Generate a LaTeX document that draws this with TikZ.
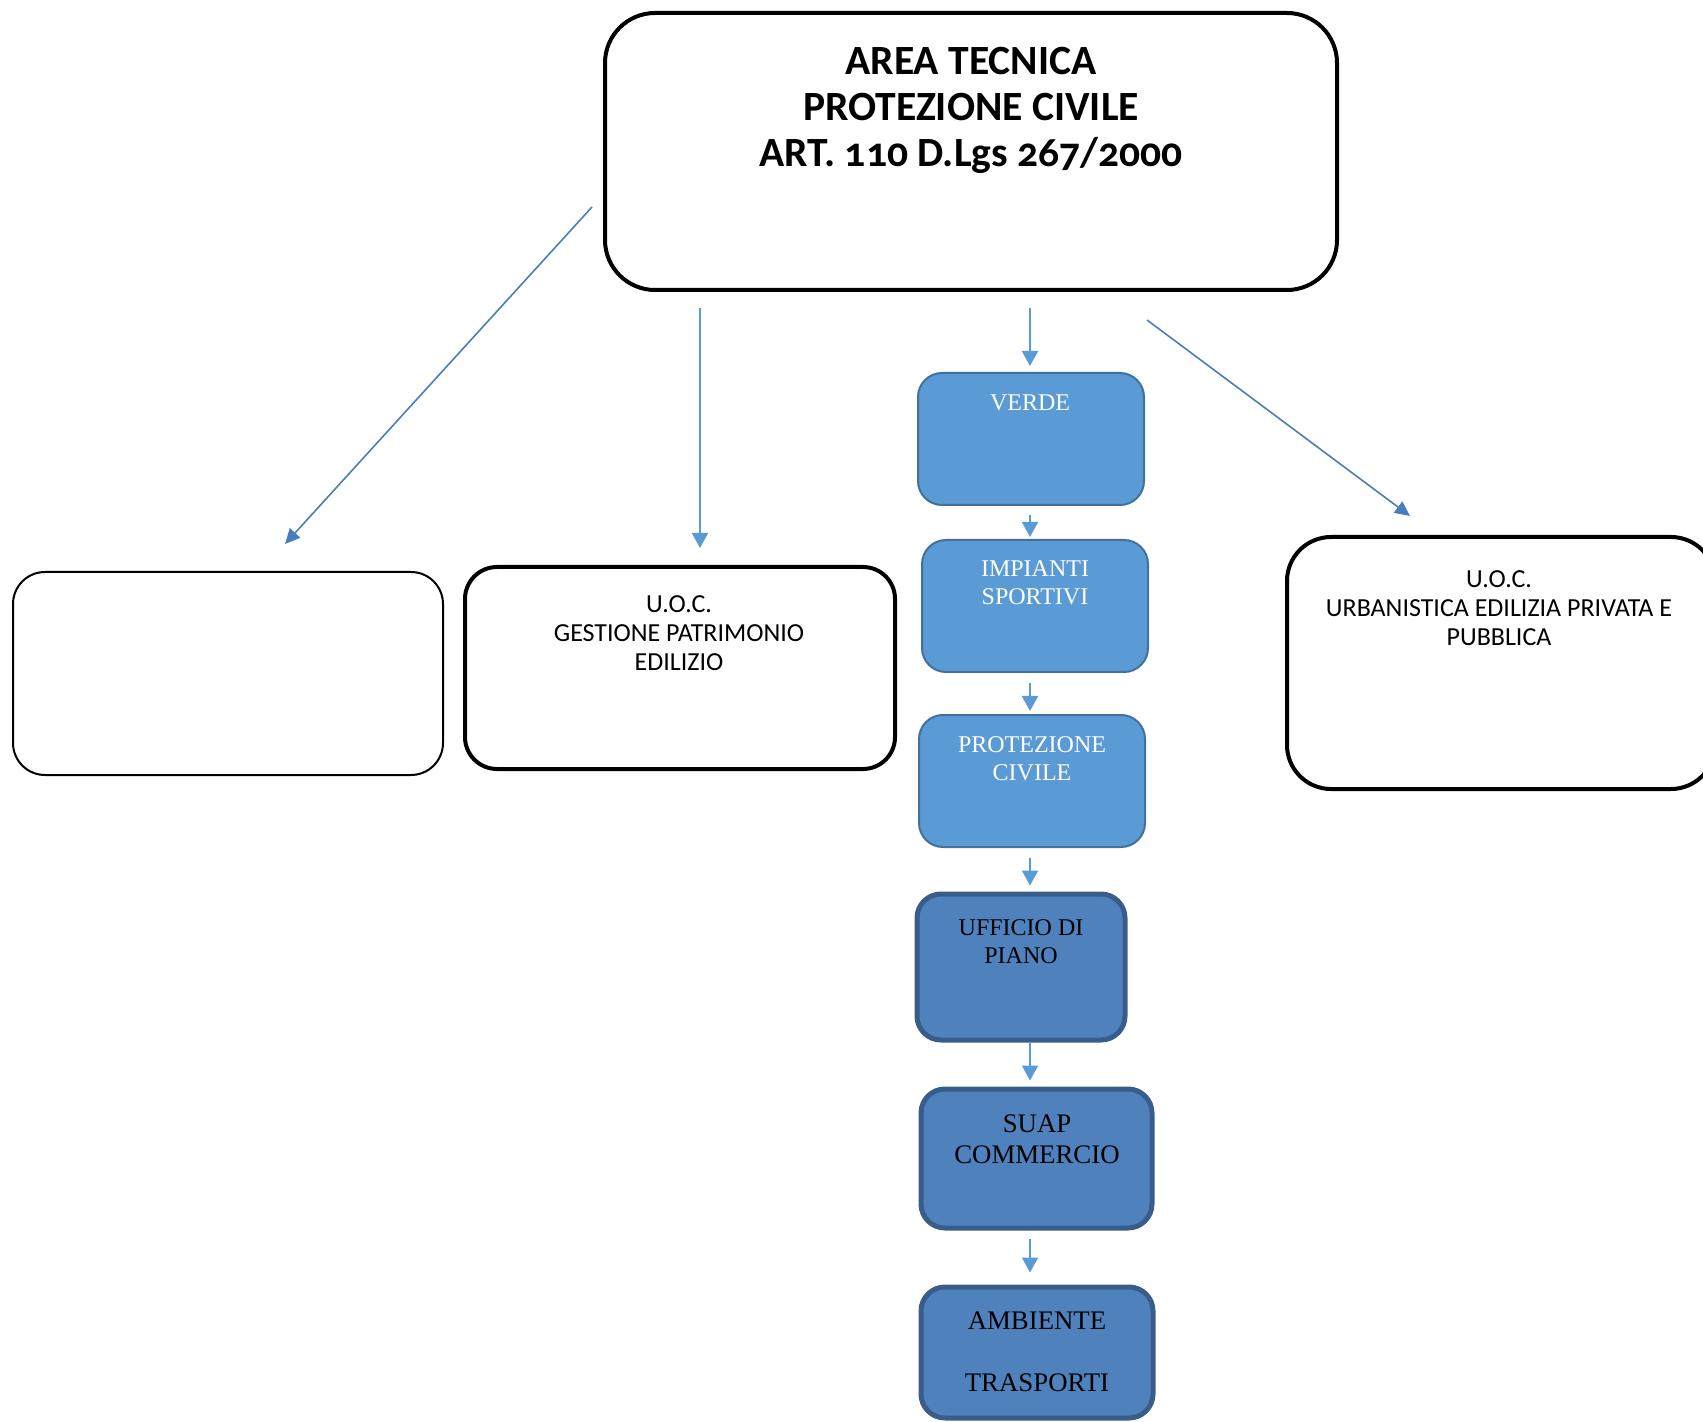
\documentclass[tikz,border=0pt]{standalone}
\usepackage{fontspec}
\setmainfont{Liberation Serif}
\newfontfamily\uocfont[Numbers=OldStyle]{Carlito}
\usetikzlibrary{arrows.meta,calc}
\definecolor{azzurro}{HTML}{5B9BD5}
\definecolor{azzurrobordo}{HTML}{41719C}
\definecolor{blu}{HTML}{4F81BD}
\definecolor{blubordo}{HTML}{385D8A}
\definecolor{lineablu}{HTML}{4A7EBB}
\begin{document}
\begin{tikzpicture}[x=0.5pt,y=-0.5pt,
  nero/.style={draw=black,line width=2pt,rounded corners=16pt,inner sep=0pt},
  chiaro/.style={draw=azzurrobordo,fill=azzurro,line width=1pt,rounded corners=12pt,inner sep=0pt},
  scuro/.style={draw=blubordo,fill=blu,line width=2.5pt,rounded corners=12pt,inner sep=0pt},
  testo/.style={align=center,inner sep=0pt},
  uoc/.style={testo,font=\uocfont\fontsize{13}{14.5}\selectfont},
  voce/.style={testo,text=white,font=\fontsize{12}{14}\selectfont},
  vocescura/.style={testo,font=\fontsize{13.4}{15.5}\selectfont},
  giu/.style={draw=azzurro,line width=1pt,-{Triangle[width=8pt,length=7.5pt]}},
  diag/.style={draw=lineablu,line width=0.8pt,-{Triangle[width=7pt,length=7.5pt]}}]
\clip (0,0) rectangle (1703,1422);
\useasboundingbox (0,0) rectangle (1703,1422);
\node[nero,rounded corners=25pt,minimum width=366pt,minimum height=138.5pt] (top) at (971,151.5) {};
\node[nero,line width=1pt,minimum width=215pt,minimum height=101.5pt] (vuoto) at (228,673.5) {};
\node[nero,minimum width=215pt,minimum height=101pt] (gest) at (680,668) {};
\node[nero,rounded corners=22pt,minimum width=214pt,minimum height=126pt] (urb) at (1501,663) {};
\node[chiaro,minimum width=113pt,minimum height=66pt] (verde) at (1031,439) {};
\node[chiaro,minimum width=113pt,minimum height=66pt] (imp) at (1035,606) {};
\node[chiaro,minimum width=113pt,minimum height=66pt] (prot) at (1032,781) {};
\node[scuro,minimum width=104pt,minimum height=73pt] (uff) at (1021,967) {};
\node[scuro,minimum width=115.5pt,minimum height=69.5pt] (suap) at (1036.5,1158.5) {};
\node[scuro,minimum width=116pt,minimum height=65.5pt] (amb) at (1037,1352.5) {};
\node[testo,font=\uocfont\bfseries\fontsize{20.8}{23}\selectfont] (ttop) at (971,110) {AREA TECNICA\\PROTEZIONE CIVILE\\ART. 110 D.Lgs 267/2000};
\node[uoc] (tgest) at (679,633) {U.O.C.\\GESTIONE PATRIMONIO\\EDILIZIO};
\node[uoc] (turb) at (1499,608) {U.O.C.\\URBANISTICA EDILIZIA PRIVATA E\\PUBBLICA};
\node[voce] (tverde) at (1030,403) {VERDE};
\node[voce] (timp) at (1035,583) {IMPIANTI\\SPORTIVI};
\node[voce] (tprot) at (1032,759) {PROTEZIONE\\CIVILE};
\node[vocescura,font=\fontsize{12}{14}\selectfont] (tuff) at (1021,942) {UFFICIO DI\\PIANO};
\node[vocescura] (tsuap) at (1037,1139) {SUAP\\COMMERCIO};
\node[vocescura] (tamb) at (1037,1352) {AMBIENTE\\[15.5pt]TRASPORTI};
\coordinate (asse) at (1030,0);
\draw[diag] ($(top.west)+(-11,55.5)$) -- ($(vuoto.north)+(57,-27)$);
\draw[giu] ($(top.south)+(-271,16)$) -- ($(gest.north)+(20,-17)$);
\draw[diag] ($(top.south)+(176,28)$) -- ($(urb.north)+(-91,-19)$);
\draw[giu,shorten <=8pt,shorten >=3pt] (top.south -| asse) -- (verde.north -| asse);
\draw[giu,shorten <=4.5pt,shorten >=1pt] (verde.south -| asse) -- (imp.north -| asse);
\draw[giu,shorten <=5pt,shorten >=1.5pt] (imp.south -| asse) -- (prot.north -| asse);
\draw[giu,shorten <=5pt,shorten >=3pt] (prot.south -| asse) -- (uff.north -| asse);
\draw[giu,shorten >=3pt] (uff.south -| asse) -- (suap.north -| asse);
\draw[giu,shorten <=4pt,shorten >=6pt] (suap.south -| asse) -- (amb.north -| asse);
\end{tikzpicture}
\end{document}
